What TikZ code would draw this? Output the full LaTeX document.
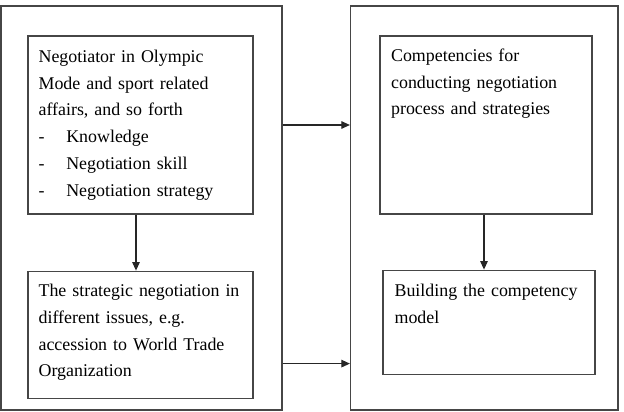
\documentclass[tikz,border=0pt]{standalone}
\usepackage{fontspec}
\setmainfont{Liberation Serif}
\usetikzlibrary{positioning, arrows.meta}
\definecolor{frameGray}{RGB}{70,70,70}
\tikzset{
  frame/.style={rectangle, draw=frameGray, line width=1.2pt, inner sep=0pt},
  txt/.style={anchor=north west, inner sep=0pt, align=left,
    font=\fontsize{17.9}{26.7}\selectfont},
  flow/.style={-{Triangle[length=8.5pt, width=7.5pt]}, line width=1.1pt, black!85},
}
\newcommand{\dashitem}[1]{\makebox[27.7pt][l]{-}#1}

\begin{document}
\begin{tikzpicture}[x=1pt, y=-1pt]
  \useasboundingbox (0,0) rectangle (624,412);
  % two outer panels
  \node[frame, minimum width=281pt, minimum height=404pt] (left) at (141.5,208) {};
  \node[frame, minimum width=267.5pt, minimum height=404pt] (right) at (484.25,208) {};
  % boxes in the panels
  \node[frame, minimum width=225pt, minimum height=178pt] (neg) at (140.5,125) {};
  \node[frame, minimum width=225pt, minimum height=127pt, below=56pt of neg] (iss) {};
  \node[frame, minimum width=212pt, minimum height=178pt] (comp) at (486,125) {};
  \node[frame, minimum width=212pt, minimum height=104pt, below=55pt of comp, xshift=3pt] (model) {};
  % texts
  \node[txt, text width=210pt] (negtxt) at ([xshift=11pt, yshift=-8.3pt]neg.north west)
    {\strut Negotiator in Olympic\\Mode and sport related\\affairs, and so forth\\
     \dashitem{Knowledge}\\\dashitem{Negotiation skill}\\\dashitem{Negotiation strategy}};
  \node[txt, text width=210pt] (isstxt) at ([xshift=11pt, yshift=-7.3pt]iss.north west)
    {\strut The strategic negotiation in\\different issues, e.g.\\accession to World Trade\\Organization};
  \node[txt, text width=198pt] (comptxt) at ([xshift=11.5pt, yshift=-7.3pt]comp.north west)
    {\strut Competencies for\\conducting negotiation\\process and strategies};
  \node[txt, text width=198pt] (modeltxt) at ([xshift=12pt, yshift=-8.3pt]model.north west)
    {\strut Building the competency\\model};
  % connectors
  \draw[flow] ([xshift=-4.5pt]neg.south) -- ([xshift=-4.5pt]iss.north);
  \draw[flow] ([xshift=-2pt]comp.south) -- ([xshift=-2pt]comp.south |- model.north);
  \draw[flow] (neg -| left.east) -- (neg -| right.west);
  \draw[flow] ([yshift=47pt]left.south east) -- ([yshift=47pt]right.south west);
\end{tikzpicture}
\end{document}
